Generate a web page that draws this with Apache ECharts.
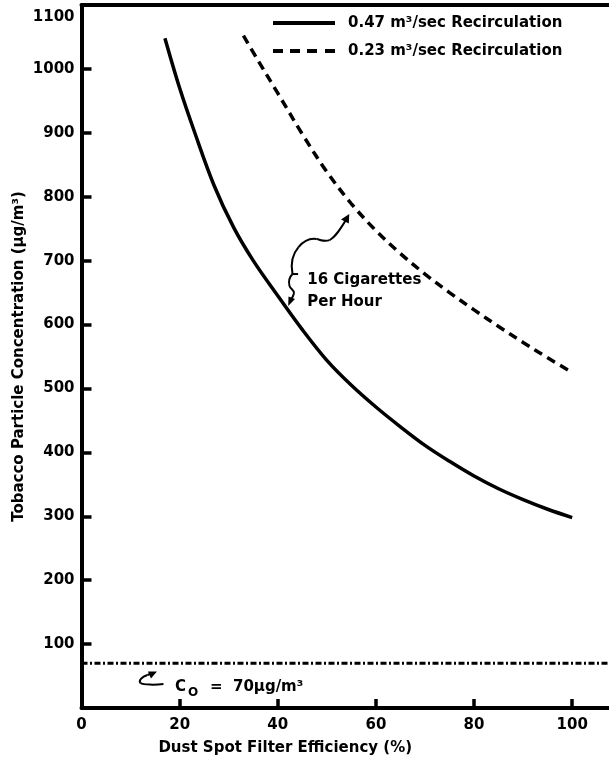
<!DOCTYPE html>
<html><head><meta charset="utf-8">
<script src="https://cdn.jsdelivr.net/npm/echarts@6/dist/echarts.min.js"></script>
<style>html,body{margin:0;padding:0;background:#fff}#c{width:609px;height:768px}</style>
</head><body><div id="c"></div>
<script>
// ---- data ----
const seriesNames = ['0.47 m³/sec Recirculation', '0.23 m³/sec Recirculation'];
const solidX = [17, 20, 23, 27, 31, 35, 40, 45, 50, 55, 60, 65, 70, 75, 80, 85, 90, 95, 100];
const solidY = [1048, 970, 902, 818, 752, 700, 645, 592, 544, 505, 471, 440, 411, 386, 363, 343, 326, 311, 298];
const dashX = [33, 36, 40, 45, 50, 55, 60, 65, 70, 75, 80, 85, 90, 95, 100];
const dashY = [1052, 1013, 962, 898, 839, 789, 747, 711, 679, 650, 623, 597, 572, 548, 525];
const baselineX = [0, 107.5];
const baselineY = [70, 70];
const xTickLabels = [0, 20, 40, 60, 80, 100];
const yTickLabels = [100, 200, 300, 400, 500, 600, 700, 800, 900, 1000, 1100];
const xName = 'Dust Spot Filter Efficiency (%)';
const yName = 'Tobacco Particle Concentration (µg/m³)';
const cigLines = ['16 Cigarettes', 'Per Hour'];
const coText = ['C', 'O', '=  70µg/m³'];

// ---- chart ----
const FONT = '"DejaVu Sans", sans-serif';
const zip = (a, b) => a.map((v, i) => [v, b[i]]);
const chart = echarts.init(document.getElementById('c'), null, {renderer: 'canvas'});
const axisLineStyle = {color: '#000', width: 4};
const solidIcon = 'path://M0,0h62v4h-62z';
const dashIcon = 'path://M0,0h10v4h-10zM17,0h10v4h-10zM34,0h10v4h-10zM52,0h10v4h-10z';
chart.setOption({
  animation: false,
  backgroundColor: '#fff',
  grid: {left: 81.5, right: 0, top: 5, bottom: 60, containLabel: false, outerBoundsMode: 'none'},
  legend: {
    data: [{name: seriesNames[0], icon: solidIcon}, {name: seriesNames[1], icon: dashIcon}],
    orient: 'vertical',
    left: 273, top: 14, padding: 0,
    itemWidth: 62, itemHeight: 4, itemGap: 10,
    itemStyle: {color: '#000', borderWidth: 0},
    textStyle: {fontFamily: FONT, fontWeight: 'bold', fontSize: 15, color: '#000', lineHeight: 18, padding: [0, 0, 0, 8]},
    selectedMode: false
  },
  xAxis: [{
    type: 'value', min: 0, max: 107.5, interval: 20,
    name: xName, nameLocation: 'middle', nameGap: 33, nameMoveOverlap: false,
    nameTextStyle: {fontFamily: FONT, fontWeight: 'bold', fontSize: 15, color: '#000', padding: [0, 120, 0, 0]},
    axisLine: {show: true, onZero: false, lineStyle: axisLineStyle},
    axisTick: {show: true, inside: true, length: 9, customValues: xTickLabels, lineStyle: {color: '#000', width: 3.5}},
    splitLine: {show: false},
    axisLabel: {
      margin: 10, fontFamily: FONT, fontWeight: 'bold', fontSize: 15, color: '#000', hideOverlap: false,
      customValues: xTickLabels,
      formatter: v => xTickLabels.indexOf(v) >= 0 ? String(v) : ''
    }
  }, {
    type: 'value', min: 0, max: 107.5, position: 'top',
    axisLine: {show: true, onZero: false, lineStyle: axisLineStyle},
    axisTick: {show: false}, axisLabel: {show: false}, splitLine: {show: false}
  }],
  yAxis: {
    type: 'value', min: 0, max: 1100, interval: 100,
    name: yName, nameLocation: 'middle', nameGap: 55, nameRotate: 90, nameMoveOverlap: false,
    nameTextStyle: {fontFamily: FONT, fontWeight: 'bold', fontSize: 15, color: '#000'},
    axisLine: {show: true, onZero: false, lineStyle: axisLineStyle},
    axisTick: {show: true, inside: true, length: 10, lineStyle: {color: '#000', width: 3.5}},
    splitLine: {show: false},
    axisLabel: {
      margin: 7, fontFamily: FONT, fontWeight: 'bold', fontSize: 15, color: '#000', hideOverlap: false,
      formatter: v => {
        if (yTickLabels.indexOf(v) < 0) return '';
        if (v === yTickLabels[yTickLabels.length - 1]) return '{t|' + v + '}';
        return String(v);
      },
      rich: {t: {fontFamily: FONT, fontWeight: 'bold', fontSize: 15, color: '#000', padding: [24, 0, 0, 0]}}
    }
  },
  series: [{
    name: seriesNames[0], type: 'line', data: zip(solidX, solidY),
    smooth: 0.35, symbol: 'none', lineStyle: {color: '#000', width: 3.5, type: 'solid'},
    itemStyle: {color: '#000'}
  }, {
    name: seriesNames[1], type: 'line', data: zip(dashX, dashY),
    smooth: 0.35, symbol: 'none', lineStyle: {color: '#000', width: 3.5, type: [9, 6]},
    itemStyle: {color: '#000'}
  }, {
    name: 'Co', type: 'line', data: zip(baselineX, baselineY),
    symbol: 'none', lineStyle: {color: '#000', width: 3, type: [6, 2.5, 2, 2.5]},
    silent: true
  }]
});

// ---- annotations (anchored in data space) ----
const cigArrowAnchor = [43.0, 679];
const cigTextAnchor = [46.0, 669];
const coArrowAnchor = [16.7, 37.6];
const coTextAnchor = [19.05, 32.9];
const px = p => chart.convertToPixel({gridIndex: 0}, p);
const a1 = px(cigArrowAnchor), t1 = px(cigTextAnchor), a2 = px(coArrowAnchor), t2 = px(coTextAnchor);
const strokeStyle = {stroke: '#000', lineWidth: 2, fill: null};
const bez = (a, s) => ({type: 'bezierCurve', x: a[0], y: a[1], silent: true,
  shape: {x1: s[0], y1: s[1], cpx1: s[2], cpy1: s[3], cpx2: s[4], cpy2: s[5], x2: s[6], y2: s[7]}, style: strokeStyle});
const seg = (a, s) => ({type: 'line', x: a[0], y: a[1], silent: true,
  shape: {x1: s[0], y1: s[1], x2: s[2], y2: s[3]}, style: strokeStyle});
const tri = (a, pts) => ({type: 'polygon', x: a[0], y: a[1], silent: true, shape: {points: pts}, style: {fill: '#000'}});
const txt = (text, x, y, size) => ({
  type: 'text', x: x, y: y, silent: true,
  style: {text: text, fontFamily: FONT, fontWeight: 'bold', fontSize: size, fill: '#000', verticalAlign: 'middle', align: 'left'}
});
chart.setOption({
  graphic: [
    seg(a1, [5.6, 0, 0, 0]),
    bez(a1, [0, 0, -2, -10, 0, -20, 6, -27]),
    bez(a1, [6, -27, 12, -34, 18, -36, 24, -35]),
    bez(a1, [24, -35, 29, -34, 32, -32, 37, -34]),
    bez(a1, [37, -34, 43, -37, 48, -45, 54, -55]),
    tri(a1, [[56.8, -60], [56.3, -50.5], [48.5, -54.5]]),
    bez(a1, [0, 0, -3, 3, -4, 8, -3, 12]),
    bez(a1, [-3, 12, -2, 15, 2, 16, 1.5, 19]),
    bez(a1, [1.5, 19, 1, 22, -1, 25, -2.5, 27]),
    tri(a1, [[-4.3, 32], [2.5, 25], [-4, 22.5]]),
    txt(cigLines[0], t1[0], t1[1], 15),
    txt(cigLines[1], t1[0], t1[1] + 22, 15),
    bez(a2, [0, 0, -8, 1, -20, 1, -23, -1]),
    bez(a2, [-23, -1, -25, -3, -22, -7, -16, -9]),
    seg(a2, [-16, -9, -12, -10.5]),
    tri(a2, [[-6.5, -12.5], [-12.5, -5.5], [-15.5, -12.5]]),
    txt(coText[0], t2[0], t2[1], 15),
    txt(coText[1], t2[0] + 13, t2[1] + 6, 12),
    txt(coText[2], t2[0] + 35, t2[1], 15)
  ]
});
</script>
</body></html>
